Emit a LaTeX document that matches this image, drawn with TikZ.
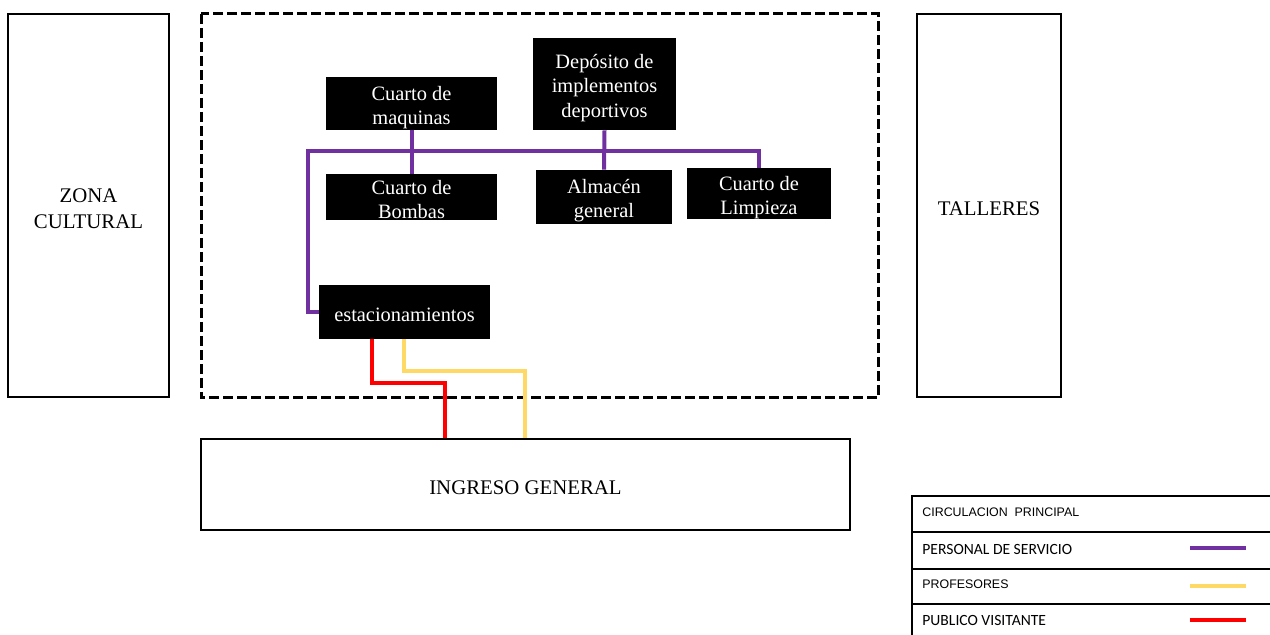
\documentclass[tikz,border=0pt]{standalone}
\usepackage{fontspec}
\setmainfont{Liberation Serif}
\newfontfamily\leyendafont{Liberation Sans}
\newfontfamily\leyendafontb{Carlito}

\definecolor{servicio}{HTML}{7030A0}
\definecolor{profesores}{HTML}{FFD966}
\definecolor{visitante}{HTML}{FF0000}

% strut that pushes the first line of a box a little lower
\newcommand{\arriba}[1][11pt]{\rule{0pt}{#1}}

\begin{document}
\begin{tikzpicture}[x=0.5pt, y=-0.5pt,
    zona/.style={draw, line width=0.8pt, inner sep=0pt, align=center, font=\fontsize{10.4}{13}\selectfont},
    cuarto/.style={fill=black, text=white, inner sep=0pt, align=center, font=\fontsize{10.2}{12.2}\selectfont},
    ruta/.style={line width=2pt},
    leyenda/.style={anchor=west, inner sep=0pt, font=\leyendafont\fontsize{6.2}{7}\selectfont},
    leyendab/.style={anchor=west, inner sep=0pt, font=\leyendafontb\fontsize{7.8}{9}\selectfont}]
    \useasboundingbox (0,0) rectangle (1270,635);

    % Zones around the site
    \node[zona, minimum width=80.5pt, minimum height=191.5pt] (zona) at (88.5,205.5) {\arriba[9.8pt]ZONA\\CULTURAL};
    \node[zona, minimum width=72pt, minimum height=191.5pt] (talleres) at (989,205.5) {\arriba[9.8pt]TALLERES};
    \node[zona, minimum width=324.5pt, minimum height=45.5pt] (ingreso) at (525.5,484.5) {\arriba[10pt]INGRESO GENERAL};

    % Service area %
    \draw[line width=1.5pt, dash pattern=on 5pt off 2pt] (201,14) rectangle (878,398);

    \node[cuarto, minimum width=85.5pt, minimum height=26.5pt] (maquinas) at (411.5,103.5) {\arriba Cuarto de\\maquinas};
    \node[cuarto, minimum width=71.5pt, minimum height=46pt] (deposito) at (604.5,84) {\arriba Depósito de\\implementos\\deportivos};
    \node[cuarto, minimum width=85.5pt, minimum height=23pt] (bombas) at (411.5,197) {\arriba[9.4pt]Cuarto de\\Bombas};
    \node[cuarto, minimum width=68pt, minimum height=27pt] (almacen) at (604,197) {\arriba Almacén\\general};
    \node[cuarto, minimum width=72pt, minimum height=24.5pt] (limpieza) at (759,193.5) {\arriba Cuarto de\\Limpieza};
    \node[cuarto, minimum width=85.5pt, minimum height=27pt] (estac) at (404.5,312) {\arriba[9.5pt]estacionamientos};

    % Personal de servicio
    \coordinate (s1) at (308,151);
    \coordinate (s2) at (759,151);
    \draw[ruta, servicio] (estac.west) -| (s1) -- (s2) -- (limpieza.north);
    \draw[ruta, servicio] (maquinas.south) -- (bombas.north);
    \draw[ruta, servicio] (deposito.south) -- (almacen.north);

    % Profesores
    \coordinate (p1) at (404,371);
    \coordinate (p2) at (525,371);
    \draw[ruta, profesores] (estac.south -| p1) -- (p1) -- (p2) -- (ingreso.north -| p2);

    % Publico visitante
    \coordinate (v1) at (372,383);
    \coordinate (v2) at (445,383);
    \draw[ruta, visitante] (estac.south -| v1) -- (v1) -- (v2) -- (ingreso.north -| v2);

    % Legend
    \draw[line width=0.75pt] (1280,496) -- (912,496) -- (912,645);
    \foreach \y in {532,569,604}
        \draw[line width=0.75pt] (912,\y) -- (1280,\y);
    \node[leyenda] (circ) at (922,512) {CIRCULACION\ \ PRINCIPAL};
    \node[leyendab] (pers) at (922,549) {PERSONAL DE SERVICIO};
    \node[leyenda] (prof) at (922,584) {PROFESORES};
    \node[leyendab] (publ) at (922,620) {PUBLICO VISITANTE};
    \draw[ruta, servicio] (1190,548) -- (1246,548);
    \draw[ruta, profesores] (1190,586) -- (1246,586);
    \draw[ruta, visitante] (1190,620) -- (1246,620);
\end{tikzpicture}
\end{document}
